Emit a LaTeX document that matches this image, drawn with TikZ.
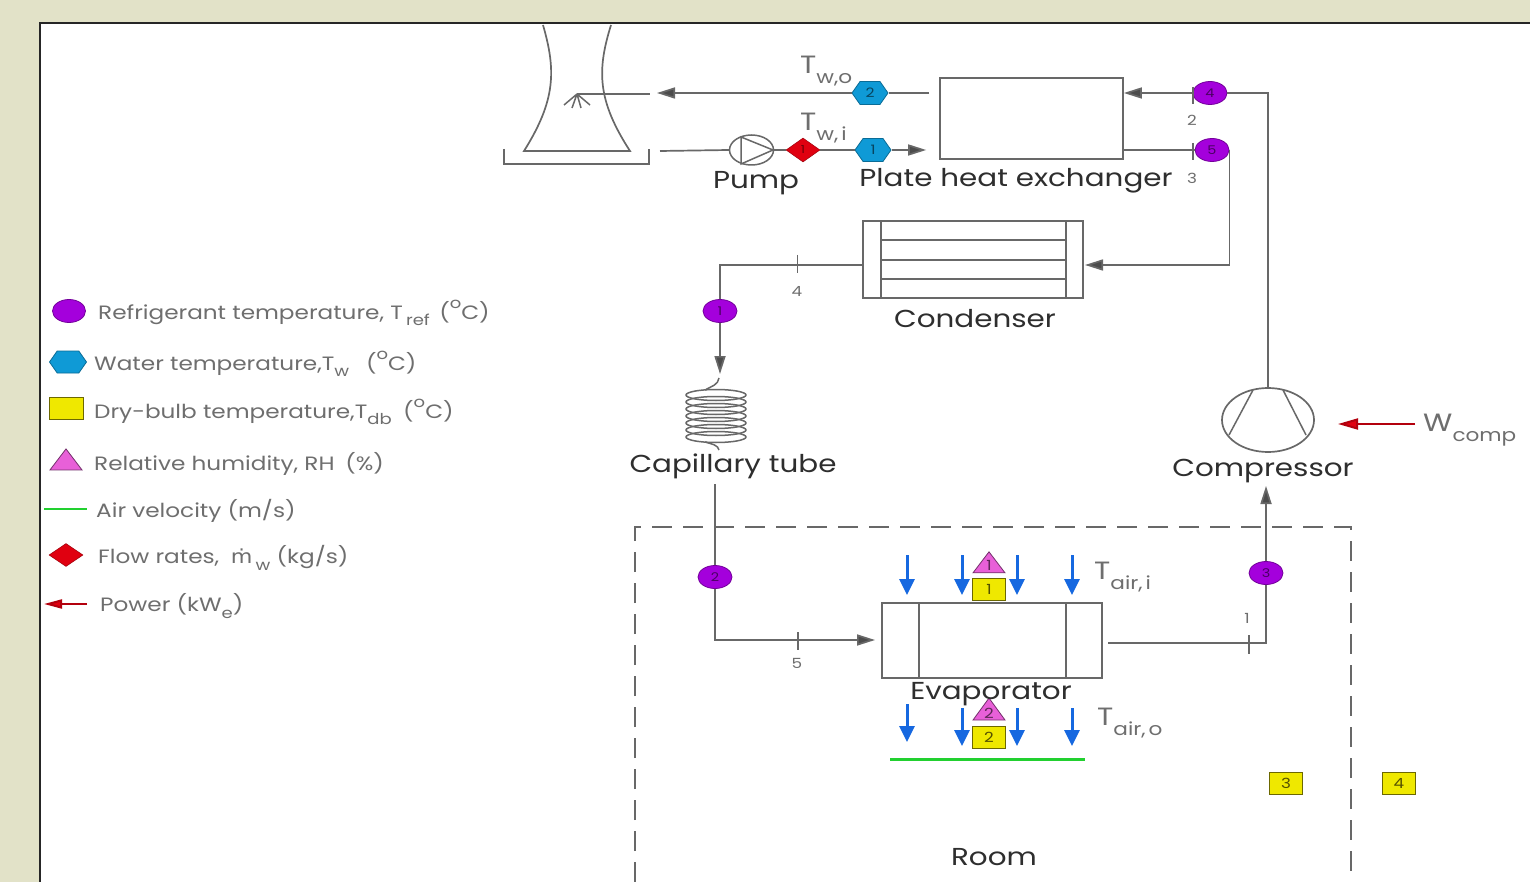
\documentclass[tikz,border=0pt]{standalone}
\usepackage{fontspec}
\setmainfont[FakeStretch=1.2]{Poppins}
\newfontfamily\dotfont[FakeStretch=1.15]{DejaVu Sans}
\usetikzlibrary{arrows.meta,shapes.geometric,shapes.symbols,calc}
\definecolor{bgc}{HTML}{E2E2C8}
\definecolor{linec}{HTML}{686868}
\definecolor{txtc}{HTML}{2E2E2E}
\definecolor{legc}{HTML}{6E6E6E}
\definecolor{refc}{HTML}{A400DC}
\definecolor{watc}{HTML}{0F9AD6}
\definecolor{yelc}{HTML}{EFE800}
\definecolor{pinkc}{HTML}{E860D8}
\definecolor{redc}{HTML}{E00010}
\definecolor{bluec}{HTML}{1668E0}
\definecolor{greenc}{HTML}{22D030}
\newcommand{\subtx}[1]{\raisebox{-0.42em}{\fontsize{18}{18}\selectfont #1}}
\newcommand{\legsub}[1]{\raisebox{-0.35em}{\fontsize{15}{15}\selectfont #1}}
\newcommand{\degmark}{\raisebox{0.55em}{\fontsize{15}{15}\selectfont o}}
\tikzset{
  x=1pt,y=-1pt,
  pipe/.style={draw=linec,line width=1.7pt},
  flow/.style={pipe,-{Triangle[length=18pt,width=11pt,fill=black!70]}},
  thin pipe/.style={draw=linec,line width=1.5pt},
  refm/.style={ellipse,draw=refc!70!black,line width=.8pt,fill=refc,minimum width=34pt,minimum height=23pt,inner sep=0pt,text=refc!45!black,font=\fontsize{12}{12}\selectfont},
  watm/.style={signal,signal to=east and west,signal pointer angle=110,draw=watc!70!black,line width=.8pt,fill=watc,minimum width=36pt,minimum height=23pt,inner sep=0pt,text=watc!45!black,font=\fontsize{13}{13}\selectfont},
  yelm/.style={rectangle,draw=yelc!45!black,line width=1pt,fill=yelc,minimum width=33pt,minimum height=22pt,inner sep=0pt,text=yelc!35!black,font=\fontsize{14}{14}\selectfont},
  pinkm/.style={isosceles triangle,shape border rotate=90,isosceles triangle stretches,draw=pinkc!50!black,line width=.8pt,fill=pinkc,minimum width=32pt,minimum height=21pt,inner sep=0pt,text=pinkc!40!black,font=\fontsize{14}{14}\selectfont},
  redm/.style={diamond,draw=redc!70!black,line width=.5pt,fill=redc,minimum width=34pt,minimum height=24pt,inner sep=0pt,text=redc!50!black,font=\fontsize{11}{11}\selectfont},
  lab/.style={text=txtc,font=\fontsize{24.5}{26}\selectfont,inner sep=0pt},
  sym/.style={text=legc,font=\fontsize{25}{27}\selectfont,inner sep=0pt,anchor=west},
  leg/.style={text=legc,font=\fontsize{19.3}{24}\selectfont,inner sep=0pt,anchor=west},
  num/.style={text=legc,font=\fontsize{14}{14}\selectfont,inner sep=0pt},
  box/.style={rectangle,draw=linec,line width=1.7pt,inner sep=0pt},
  bluearr/.style={draw=bluec,line width=3pt,-{Triangle[length=16pt,width=15pt]}},
  redarr/.style={draw=redc!80!black,line width=2pt,-{Triangle[length=20pt,width=11pt,fill=redc]}},
  tick/.style={draw=linec,line width=1.3pt},
}
\begin{document}
\begin{tikzpicture}
\useasboundingbox (0,0) rectangle (1530,882);
\fill[bgc] (0,0) rectangle (1530,882);
\fill[white] (40,23) rectangle (1530,882);
\draw[black!85,line width=2pt] (40,882) -- (40,23) -- (1530,23);

% cooling tower
\draw[pipe] (543,25) .. controls (556,70) and (556,100) .. (524,151) -- (630,151) .. controls (597,100) and (597,70) .. (611,25);
\draw[pipe] (504,149) -- (504,164) -- (649,164) -- (649,149);
\coordinate (spray) at (577,94);
\coordinate (towerin) at (650,94);
\coordinate (towerout) at (660,151);
\coordinate (twtip) at (657,93);
\draw[thin pipe] (spray) -- (towerin);
\draw[thin pipe] (spray) -- (564,105) (spray) -- (572,108) (spray) -- (581,108) (spray) -- (590,105);

% main boxes
\node[box,minimum width=183pt,minimum height=81pt] (phe) at (1031.5,118.5) {};
\node[box,minimum width=220pt,minimum height=77pt] (cond) at (973,259.5) {};
\draw[pipe] (881,221) -- (881,298) (1066,221) -- (1066,298);
\draw[thin pipe] (881,240) -- (1066,240) (881,260) -- (1066,260) (881,279) -- (1066,279);
\node[box,minimum width=220pt,minimum height=75pt] (evap) at (992,640.5) {};
\draw[pipe] (919,603) -- (919,678) (1066,603) -- (1066,678);

% pump
\node[ellipse,draw=linec,line width=1.5pt,minimum width=44pt,minimum height=30pt,inner sep=0pt] (pump) at (751.5,150) {};
\draw[thin pipe] (741,137) -- (773,150) -- (741,164) -- cycle;

% compressor
\node[ellipse,draw=linec,line width=1.7pt,minimum width=92pt,minimum height=64pt,inner sep=0pt] (comp) at (1268,420) {};
\draw[thin pipe] (1253,390) -- (1229,435) (1283,390) -- (1306,435);

% capillary coil
\foreach \yy in {395,402,409,416,423,430,437}
  \draw[linec,line width=1.5pt] (716,\yy) ellipse [x radius=30,y radius=5.5];
\coordinate (coiltop) at (720,374);
\coordinate (coilbot) at (719,450);
\coordinate (leadtop) at (719,378);
\draw[thin pipe] (leadtop) .. controls (718,385) and (712,386) .. (705,390);
\draw[thin pipe] (705,442) .. controls (712,444) and (718,445) .. (coilbot);

% markers
\node[watm] (h2) at (870,93) {2};
\node[watm] (h1) at (873,150) {1};
\node[redm] (d1) at (803,150) {1};
\node[refm] (r4) at (1210,93) {4};
\node[refm] (r5) at (1212,150) {5};
\node[refm] (r1) at (720,311) {1};
\node[refm] (r2) at (715,577) {2};
\node[refm] (r3) at (1266,573) {3};
\node[pinkm] (p1) at (989,565) {1};
\node[yelm] (y1) at (989,589) {1};
\node[pinkm] (p2) at (989,713) {2};
\node[yelm] (y2) at (989,737) {2};
\node[yelm] (y3) at (1286,783) {3};
\node[yelm] (y4) at (1399,783) {4};

% water circuit
\draw[flow] (h2.west) -- (twtip);
\draw[pipe] ([xshift=-10pt]phe.west |- h2.east) -- (h2.east);
\draw[pipe] (towerout) -- (pump.west);
\draw[pipe] (pump.east) -- (d1.west);
\draw[pipe] (d1.east) -- (h1.west);
\draw[flow] (h1.east) -- ([xshift=-13pt]phe.west |- h1.east);

% refrigerant circuit
\coordinate (cin) at (1085,265);
\coordinate (cout) at (863,265);
\coordinate (elbow1) at (720,265);
\coordinate (capout) at (715,484);
\coordinate (ein) at (875,640);
\coordinate (elbow2) at (715,640);
\coordinate (eout) at (1108,643);
\coordinate (elbow3) at (1266,643);
\coordinate (cmpin) at (1266,486);
\draw[flow] (r4.west) -- (phe.east |- r4.west);
\draw[pipe] (r4.east) -| (comp.north);
\draw[pipe] (phe.east |- r5.west) -- (r5.west);
\draw[flow] (r5.east) |- (cin);
\draw[pipe] (cout) -- (elbow1) -- (r1.north);
\draw[flow] (r1.south) -- (coiltop);
\draw[pipe] (capout) -- (r2.north);
\draw[flow] (r2.south) -- (elbow2) -- (ein);
\draw[pipe] (eout) -- (elbow3) -- (r3.south);
\draw[flow] (r3.north) -- (cmpin);

% ticks
\draw[tick] (1193,87) -- (1193,104);
\draw[tick] (1193,143) -- (1193,160);
\draw[tick] (797.5,255) -- (797.5,273);
\draw[tick] (798,632) -- (798,650);
\draw[tick] (1249,635) -- (1249,654);
\node[num] (n2) at (1192,120) {2};
\node[num] (n3) at (1192,178) {3};
\node[num] (n4) at (797,291) {4};
\node[num] (n5) at (797,663) {5};
\node[num] (n1) at (1247,618) {1};

% room
\draw[linec,line width=1.5pt,dash pattern=on 20pt off 11pt] (635,882) -- (635,527) -- (1351,527) -- (1351,882);
\node[lab] (room) at (994,857) {Room};

% air flow
\foreach \xx in {907,962,1017,1072} \draw[bluearr] (\xx,555) -- (\xx,595);
\draw[bluearr] (907,704) -- (907,742);
\foreach \xx in {962,1017,1072} \draw[bluearr] (\xx,708) -- (\xx,746);
\draw[greenc,line width=3pt] (890,759) -- (1085,759);

% power
\coordinate (wa) at (1415,424);
\coordinate (wb) at (1338,424);
\draw[redarr] (wa) -- (wb);

% labels
\node[lab] (lpump) at (756,183) {Pump};
\node[lab] (lphe) at (1016,181) {Plate heat exchanger};
\node[lab] (lcond) at (975,319) {Condenser};
\node[lab] (lcap) at (733,466) {Capillary tube};
\node[lab] (lcomp) at (1263,471) {Compressor};
\node[lab] (levap) at (991,694) {Evaporator};
\node[sym] (twoo) at (800,71) {T\subtx{w,o}};
\node[sym] (twii) at (800,128) {T\subtx{w,\,i}};
\node[sym] (tai) at (1094,577) {T\subtx{air,\,i}};
\node[sym] (tao) at (1097,723) {T\subtx{air,\,o}};
\node[sym] (wc) at (1423,430) {W\subtx{comp}};

% legend
\node[refm,minimum width=33pt,minimum height=23pt] (k1) at (69,311) {};
\node[watm,minimum width=37pt,minimum height=22pt] (k2) at (68,362) {};
\node[yelm,minimum width=34pt,minimum height=22pt] (k3) at (66,408) {};
\node[pinkm,minimum width=32pt,minimum height=21pt] (k4) at (66,462) {};
\draw[greenc,line width=2.4pt] (44,509) -- (87,509);
\node[redm,minimum width=34pt,minimum height=23pt] (k6) at (66,555) {};
\draw[redarr,-{Triangle[length=18pt,width=9pt,fill=redc]}] (87,604) -- (44,604);
\node[leg] (t1) at (98,313) {Refrigerant temperature, T\,\legsub{ref}\, (\degmark C)};
\node[leg] (t2) at (94,364) {Water temperature,T\legsub{w}\;\; (\degmark C)};
\node[leg] (t3) at (94,412) {Dry-bulb temperature,T\legsub{db}\; (\degmark C)};
\node[leg] (t4) at (94,464) {Relative humidity, RH\;\;(\%)};
\node[leg] (t5) at (96,511) {Air velocity (m/s)};
\node[leg] (t6) at (98,558) {Flow rates,\; {\dotfont ṁ}\,\legsub{w} (kg/s)};
\node[leg] (t7) at (100,606) {Power (kW\legsub{e})};
\end{tikzpicture}
\end{document}
